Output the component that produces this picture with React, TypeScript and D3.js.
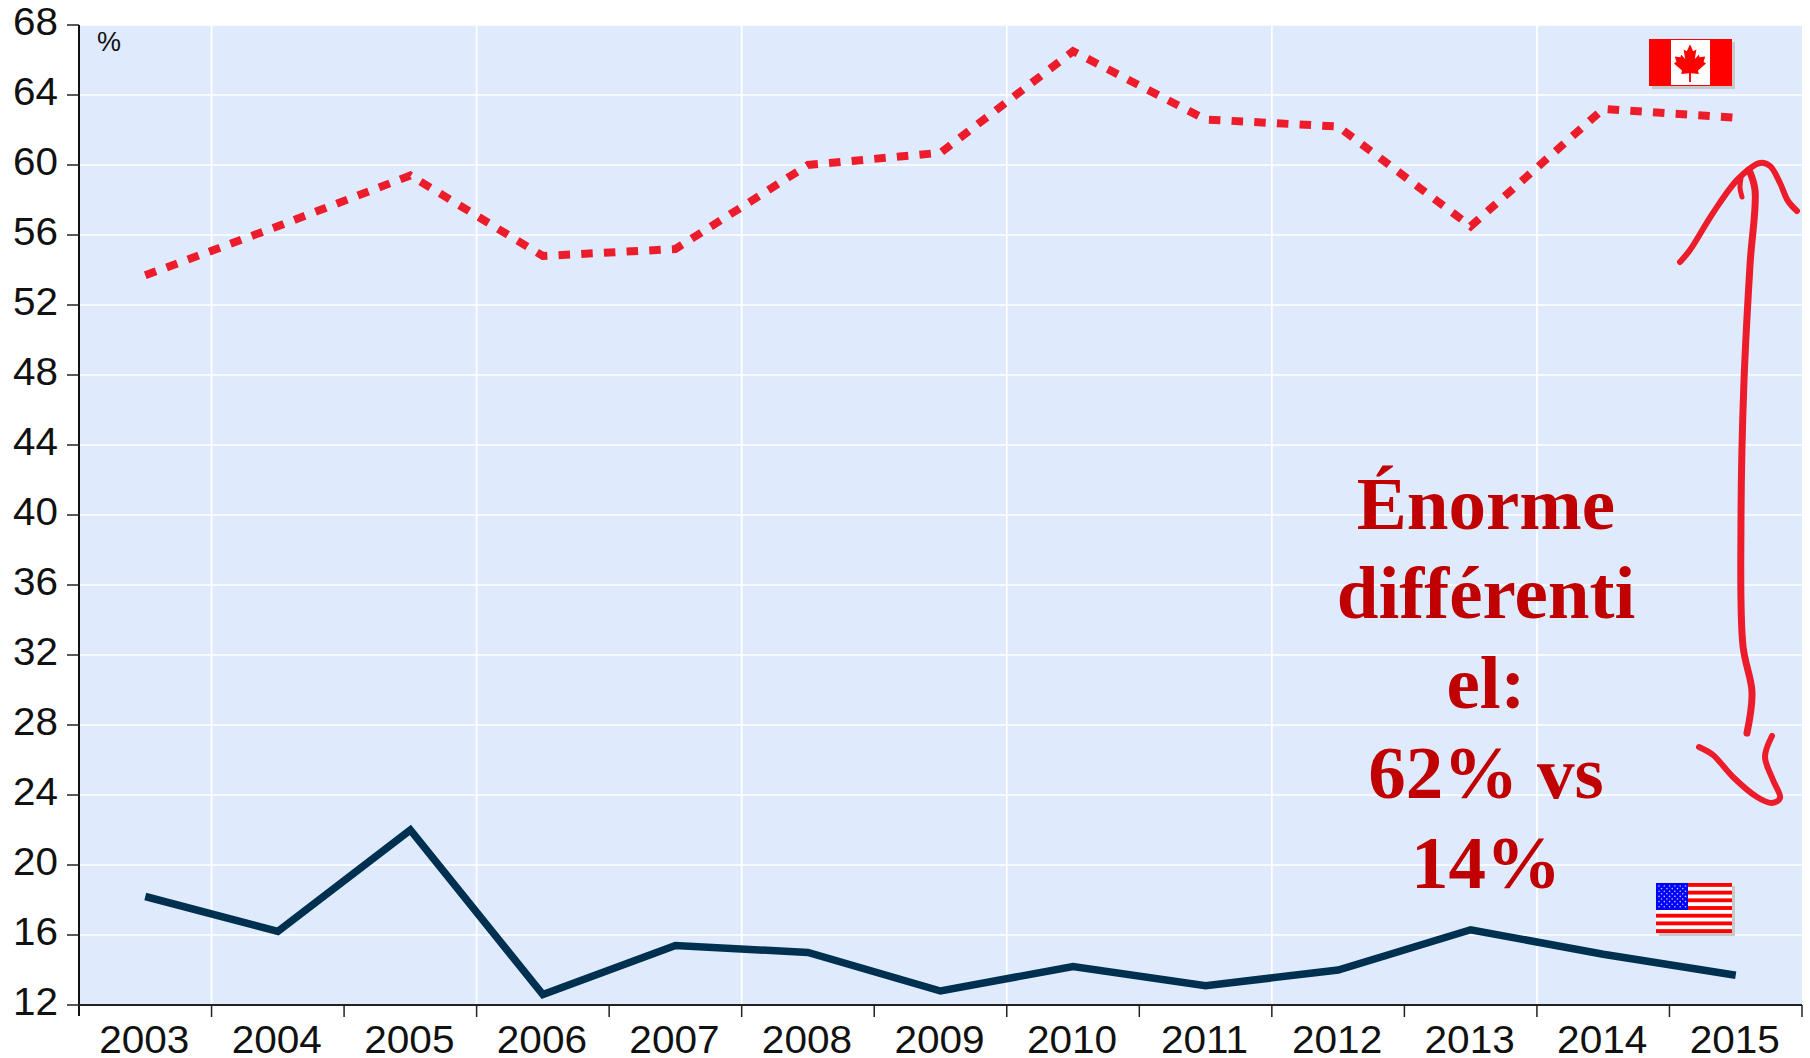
import React from "react";
import * as d3 from "d3";

const years = [2003,2004,2005,2006,2007,2008,2009,2010,2011,2012,2013,2014,2015];
const canada = [53.7,56.5,59.4,54.8,55.2,60.0,60.7,66.5,62.6,62.2,56.5,63.2,62.7];
const usa = [18.2,16.2,22.0,12.6,15.4,15.0,12.8,14.2,13.1,14.0,16.3,14.9,13.7];
const yTicks = [12,16,20,24,28,32,36,40,44,48,52,56,60,64,68];
const annotationLines = ["Énorme","différenti","el:","62% vs","14%"];

const L = 79, R = 1802, T = 25, B = 1005;
const FONT = "'Liberation Sans', Arial, sans-serif";
const RED = "#EC1C2B";

const maple = "M0,-22 L4,-14 L8,-16 L6,-5 L11,-10 L12,-7 L19,-8 L17,-2 L20,0 L10,8 L11,12 L1.2,11 L1.2,21 L-1.2,21 L-1.2,11 L-11,12 L-10,8 L-20,0 L-17,-2 L-19,-8 L-12,-7 L-11,-10 L-6,-5 L-8,-16 L-4,-14 Z";

export default function App() {
  const x = d3.scaleBand<number>().domain(years).range([L, R]);
  const y = d3.scaleLinear().domain([12, 68]).range([B, T]);
  const cx = (yr: number) => x(yr)! + x.bandwidth() / 2;
  const line = d3.line<number>().x((_, i) => cx(years[i])).y((d) => y(d));
  const curve = d3.line().curve(d3.curveCatmullRom.alpha(0.5));
  const headUp: [number,number][] = [[1680,262],[1690,250],[1713,213],[1738,179],[1760,163],[1770,166],[1780,183],[1788,201],[1797,211]];
  const shaft: [number,number][] = [[1749,170],[1755,190],[1750,265],[1744,381],[1741,519],[1743,646],[1752,692],[1747,733]];
  const hook: [number,number][] = [[1741,178],[1740,188],[1742,197]];
  const headDown: [number,number][] = [[1699,747],[1713,755],[1733,777],[1757,797],[1772,803],[1780,798],[1773,780],[1765,757],[1772,736]];

  return (
    <svg width={1810} height={1058} style={{position:"absolute",left:0,top:0,display:"block",background:"#fff"}}>
      <rect x={L} y={T} width={R-L} height={B-T} fill="#DFEBFD"/>
      {yTicks.slice(1).map(t=>(
        <line key={t} x1={L} x2={R} y1={y(t)} y2={y(t)} stroke="#fff" strokeWidth={1.7}/>
      ))}
      {years.slice(0,-1).filter((_,i)=>i%2===0).map(yr=>(
        <line key={yr} x1={x(yr)!+x.bandwidth()} x2={x(yr)!+x.bandwidth()} y1={T} y2={B} stroke="#fff" strokeWidth={1.7}/>
      ))}
      <path d={line(canada)!} fill="none" stroke={RED} strokeWidth={8} strokeDasharray="11.5 11.2"/>
      <path d={line(usa)!} fill="none" stroke="#00304F" strokeWidth={7.5}/>

      <line x1={L} x2={L} y1={T} y2={B+11} stroke="#111" strokeWidth={2}/>
      <line x1={L} x2={R+0} y1={B} y2={B} stroke="#222" strokeWidth={2}/>
      {yTicks.map(t=>(
        <g key={t}>
          <line x1={67} x2={L} y1={y(t)} y2={y(t)} stroke="#222" strokeWidth={1.5}/>
          <text transform={`translate(58,${y(t)+9.5}) scale(1.05,1)`} textAnchor="end" fontFamily={FONT} fontSize={38.5} fill="#111">{t}</text>
        </g>
      ))}
      {years.map(yr=>(
        <g key={yr}>
          <line x1={x(yr)!+x.bandwidth()} x2={x(yr)!+x.bandwidth()} y1={B} y2={B+12} stroke="#222" strokeWidth={1.5}/>
          <text transform={`translate(${cx(yr)-1},1053) scale(1.04,1)`} textAnchor="middle" fontFamily={FONT} fontSize={39} fill="#111">{yr}</text>
        </g>
      ))}
      <text x={97} y={51} fontFamily={FONT} fontSize={27} fill="#111">%</text>

      {annotationLines.map((s,i)=>(
        <text key={i} x={1486} y={528.5+i*89.75} textAnchor="middle" fontFamily="'Liberation Serif', serif" fontWeight="bold" fontSize={75} fill="#C00000">{s}</text>
      ))}

      <g fill="none" stroke={RED} strokeLinecap="round" strokeLinejoin="round">
        <path d={curve(headUp)!} strokeWidth={6}/>
        <path d={curve(shaft)!} strokeWidth={7}/>
        <path d={curve(hook)!} strokeWidth={5}/>
        <path d={curve(headDown)!} strokeWidth={6}/>
      </g>

      <rect x={1652} y={42} width={83} height={47} fill="#c8c8c8"/>
      <rect x={1649} y={39} width={83} height={47} fill="#F00"/>
      <rect x={1671} y={40} width={39} height={45} fill="#fff"/>
      <path d={maple} transform="translate(1690,63.5) scale(0.8,0.88)" fill="#F00"/>

      <rect x={1659} y={886} width={76} height={50} fill="#c8c8c8"/>
      <rect x={1656} y={883} width={76} height={50} fill="#fff"/>
      {d3.range(0,13,2).map(i=>(
        <rect key={i} x={1656} y={883+i*50/13} width={76} height={50/13} fill="#F00"/>
      ))}
      <rect x={1656} y={883} width={32} height={27} fill="#00F"/>
      {d3.range(9).map(r=>d3.range(r%2?5:6).map(c=>(
        <circle key={r+"-"+c} cx={1659+c*5.3+(r%2?2.6:0)} cy={886+r*2.6} r={0.8} fill="#ccd"/>
      )))}
    </svg>
  );
}
